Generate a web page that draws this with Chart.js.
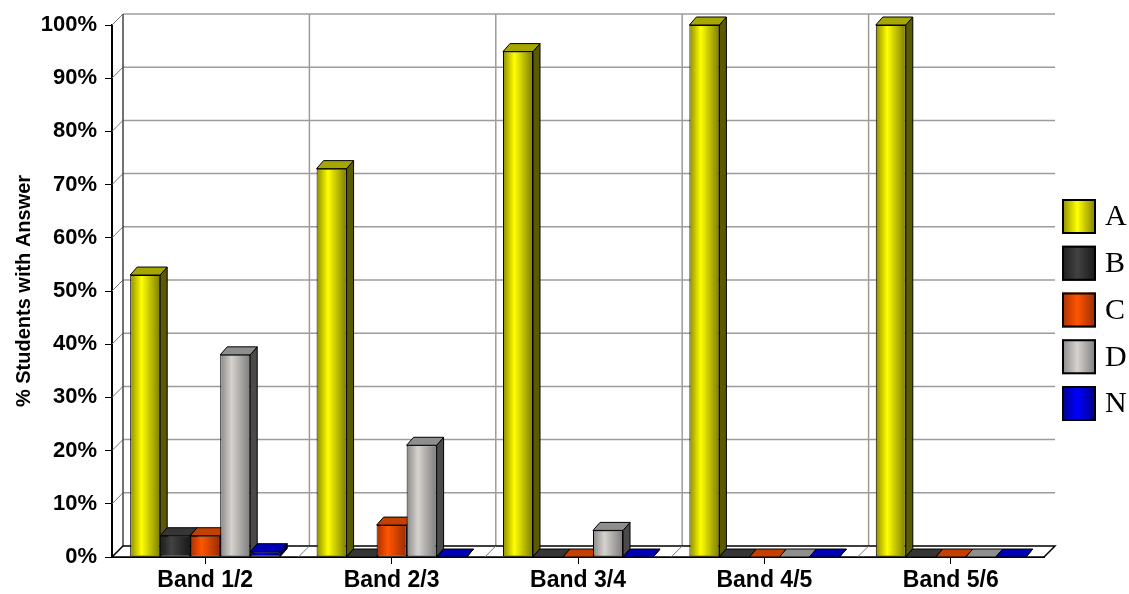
<!DOCTYPE html>
<html>
<head>
<meta charset="utf-8">
<script src="https://cdn.jsdelivr.net/npm/chart.js@4"></script>
<style>
html,body{margin:0;padding:0;background:#fff;}
canvas{display:block;}
</style>
</head>
<body>
<canvas id="c" width="1129" height="594"></canvas>
<script>
// ---- data ----
const categories = ['Band 1/2', 'Band 2/3', 'Band 3/4', 'Band 4/5', 'Band 5/6'];
const seriesNames = ['A', 'B', 'C', 'D', 'N'];
const valuesA = [53, 73, 95, 100, 100];
const valuesB = [4, 0, 0, 0, 0];
const valuesC = [4, 6, 0, 0, 0];
const valuesD = [38, 21, 5, 0, 0];
const valuesN = [1, 0, 0, 0, 0];
const yTickLabels = ['0%', '10%', '20%', '30%', '40%', '50%', '60%', '70%', '80%', '90%', '100%'];
const yTitle = '% Students with Answer';

// ---- style ----
const PAL = [
  { edge: '#8c8c00', light: '#ffff00', edge2: '#7c7c00', side: '#5a5a00', top: '#a6a600' },
  { edge: '#1c1c1c', light: '#424242', edge2: '#181818', side: '#0c0c0c', top: '#363636' },
  { edge: '#a83000', light: '#ff5500', edge2: '#982c00', side: '#5c1c00', top: '#c44000' },
  { edge: '#8a8888', light: '#d6d2ce', edge2: '#7c7c7c', side: '#4a4a4a', top: '#8e8e8e' },
  { edge: '#00008c', light: '#0000ff', edge2: '#000080', side: '#000058', top: '#0000b4' }
];
const CAT_PCT = 0.805;
const WALL = { dx: 11, dy: 11 };
const BAR = { dx: 7, dy: 8 };
const FONT = "'Liberation Sans', Arial, sans-serif";
const SERIF = "'Liberation Serif', 'Times New Roman', serif";

function frontFill(si) {
  return (c) => {
    const chart = c.chart, xs = chart.scales && chart.scales.x, p = PAL[si];
    if (!xs || c.dataIndex == null || !chart.chartArea) return p.light;
    const cw = (xs.right - xs.left) / categories.length;
    const bw = cw * CAT_PCT / seriesNames.length;
    const x0 = xs.getPixelForValue(c.dataIndex) - cw * CAT_PCT / 2 + si * bw;
    const g = chart.ctx.createLinearGradient(x0, 0, x0 + bw, 0);
    g.addColorStop(0, p.edge);
    g.addColorStop(0.38, p.light);
    g.addColorStop(1, p.edge2);
    return g;
  };
}

const allValues = [valuesA, valuesB, valuesC, valuesD, valuesN];

function line(ctx, x1, y1, x2, y2) {
  ctx.beginPath(); ctx.moveTo(x1, y1); ctx.lineTo(x2, y2); ctx.stroke();
}
function poly(ctx, pts, fill, stroke) {
  ctx.beginPath();
  ctx.moveTo(pts[0][0], pts[0][1]);
  for (let i = 1; i < pts.length; i++) ctx.lineTo(pts[i][0], pts[i][1]);
  ctx.closePath();
  if (fill) { ctx.fillStyle = fill; ctx.fill(); }
  if (stroke) { ctx.strokeStyle = stroke; ctx.stroke(); }
}

const threeD = {
  id: 'threeD',
  beforeDatasetsDraw(chart) {
    const { ctx, chartArea: a, scales: { x, y } } = chart;
    const n = categories.length;
    const cw = (a.right - a.left) / n;
    ctx.save();
    // back wall horizontal grid + diagonals from front ticks
    ctx.lineWidth = 1.5;
    ctx.strokeStyle = '#9c9c9c';
    y.ticks.forEach(t => {
      const py = y.getPixelForValue(t.value);
      if (t.value > 0) line(ctx, a.left + WALL.dx, py - WALL.dy, a.right + WALL.dx, py - WALL.dy);
    });
    // back wall vertical lines at category boundaries
    for (let i = 1; i < n; i++) {
      const bx = a.left + i * cw;
      line(ctx, bx + WALL.dx, a.top - WALL.dy, bx + WALL.dx, a.bottom - WALL.dy);
    }
    ctx.lineWidth = 1;
    ctx.strokeStyle = '#777';
    y.ticks.forEach(t => {
      const py = y.getPixelForValue(t.value);
      line(ctx, a.left, py, a.left + WALL.dx, py - WALL.dy);
    });
    ctx.strokeStyle = '#444';
    ctx.lineWidth = 1.5;
    line(ctx, a.left + WALL.dx, a.top - WALL.dy, a.left + WALL.dx, a.bottom - WALL.dy);
    // floor
    ctx.lineWidth = 1.5;
    poly(ctx, [[a.left, a.bottom], [a.right, a.bottom], [a.right + WALL.dx, a.bottom - WALL.dy], [a.left + WALL.dx, a.bottom - WALL.dy]], '#ffffff', '#000');
    ctx.lineWidth = 1;
    ctx.strokeStyle = '#777';
    for (let i = 1; i < n; i++) {
      const bx = a.left + i * cw;
      line(ctx, bx, a.bottom, bx + WALL.dx, a.bottom - WALL.dy);
    }
    // bar sides and tops
    ctx.lineWidth = 1;
    chart.data.datasets.forEach((ds, di) => {
      const meta = chart.getDatasetMeta(di);
      const p = PAL[di];
      meta.data.forEach(el => {
        const pr = el.getProps(['x', 'y', 'base', 'width'], true);
        const l = pr.x - pr.width / 2, r = pr.x + pr.width / 2;
        const ty = pr.y, bs = pr.base;
        poly(ctx, [[r, ty], [r + BAR.dx, ty - BAR.dy], [r + BAR.dx, bs - BAR.dy], [r, bs]], p.side, '#000');
        poly(ctx, [[l, ty], [r, ty], [r + BAR.dx, ty - BAR.dy], [l + BAR.dx, ty - BAR.dy]], p.top, '#000');
      });
    });
    ctx.restore();
  },
  afterDraw(chart) {
    const { ctx, chartArea: a } = chart;
    ctx.save();
    const bx = a.right + 18, bw = 34, bh = 35, step = 46.75;
    const y0 = a.top + 174;
    seriesNames.forEach((name, i) => {
      const p = PAL[i];
      const by = y0 + i * step;
      const g = ctx.createLinearGradient(bx, 0, bx + bw, 0);
      g.addColorStop(0, p.edge); g.addColorStop(0.45, p.light); g.addColorStop(1, p.edge2);
      ctx.fillStyle = g;
      ctx.fillRect(bx, by, bw, bh);
      ctx.lineWidth = 2;
      ctx.strokeStyle = '#000';
      ctx.strokeRect(bx + 1, by + 1, bw - 2, bh - 2);
      ctx.fillStyle = '#000';
      ctx.font = '30px ' + SERIF;
      ctx.textBaseline = 'middle';
      ctx.textAlign = 'left';
      ctx.fillText(name, bx + bw + 9, by + bh / 2 + 1);
    });
    ctx.restore();
  }
};

new Chart(document.getElementById('c'), {
  type: 'bar',
  data: {
    labels: categories,
    datasets: seriesNames.map((name, i) => ({
      label: name,
      data: allValues[i],
      backgroundColor: frontFill(i),
      borderColor: '#000',
      borderWidth: 1,
      borderSkipped: false,
      categoryPercentage: CAT_PCT,
      barPercentage: 1.0
    }))
  },
  options: {
    responsive: false,
    animation: false,
    devicePixelRatio: 1,
    layout: { padding: { top: 25, right: 85, left: 0, bottom: 0 } },
    plugins: {
      legend: { display: false },
      tooltip: { enabled: false }
    },
    scales: {
      x: {
        grid: { display: true, drawOnChartArea: false, drawTicks: true, tickLength: 7, offset: false, color: '#000', lineWidth: 1 },
        border: { display: true, color: '#000', width: 2 },
        ticks: { color: '#000', font: { family: FONT, size: 23, weight: 'bold' }, padding: 3, maxRotation: 0, autoSkip: false },
        afterFit: (s) => { s.height = 37; }
      },
      y: {
        min: 0, max: 100,
        grid: { display: true, drawOnChartArea: false, drawTicks: true, tickLength: 7, color: '#000', lineWidth: 1 },
        border: { display: true, color: '#000', width: 2 },
        ticks: { stepSize: 10, color: '#000', font: { family: FONT, size: 22, weight: 'bold' }, padding: 8,
                 callback: (v, i) => yTickLabels[i] },
        title: { display: true, text: yTitle, color: '#000', font: { family: FONT, size: 20, weight: 'bold' }, padding: { top: 12, bottom: 0 } },
        afterFit: (s) => { s.width = 112; }
      }
    }
  },
  plugins: [threeD]
});
</script>
</body>
</html>
